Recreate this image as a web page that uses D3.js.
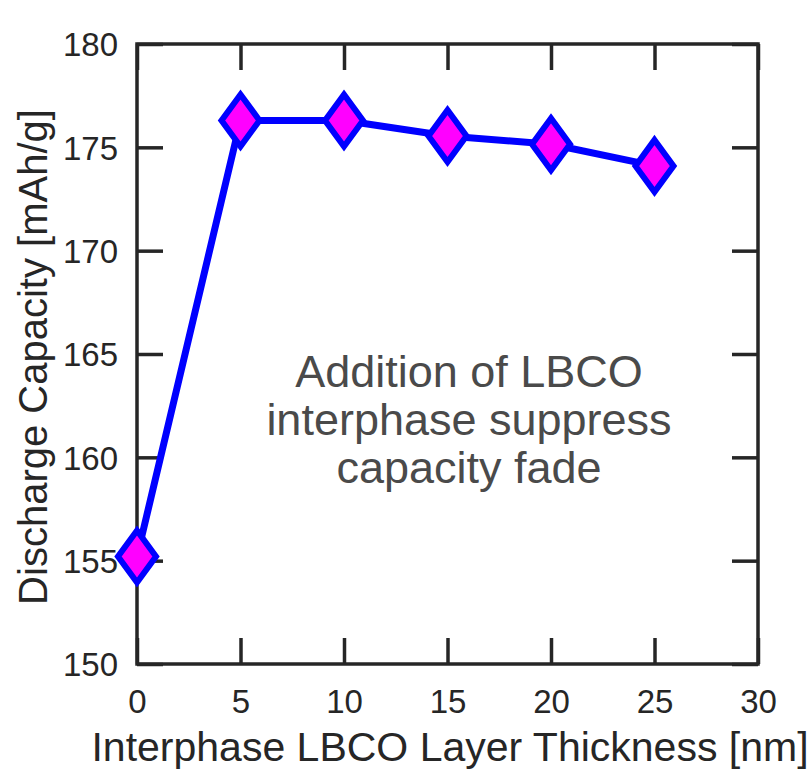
<!DOCTYPE html>
<html>
<head>
<meta charset="utf-8">
<script src="https://cdn.jsdelivr.net/npm/d3@7"></script>
<style>
  body { margin: 0; background: #fff; }
  svg text { font-family: "Liberation Sans", Arial, Helvetica, sans-serif; }
</style>
</head>
<body>
<div id="chart"></div>
<script>
// data
var thickness = [0, 5, 10, 15, 20, 25];
var capacity = [155.2, 176.3, 176.3, 175.55, 175.15, 174.1];
var xTicks = [0, 5, 10, 15, 20, 25, 30];
var yTicks = [150, 155, 160, 165, 170, 175, 180];
var note = ["Addition of LBCO", "interphase suppress", "capacity fade"];

var svgWidth = 809;
var svgHeight = 771;
var margin = { top: 44, right: 51, bottom: 107, left: 137 };
var width = svgWidth - margin.left - margin.right;
var height = svgHeight - margin.top - margin.bottom;

var svg = d3.select("#chart")
    .append("svg")
    .attr("width", svgWidth)
    .attr("height", svgHeight);

var chartGroup = svg.append("g")
    .attr("transform", `translate(${margin.left}, ${margin.top})`);

var xScale = d3.scaleLinear().domain([0, 30]).range([0, width]);
var yScale = d3.scaleLinear().domain([150, 180]).range([height, 0]);

var axisColor = "#262626";
var tickLen = 26;

// axes with inward ticks
var xAxis = chartGroup.append("g")
    .attr("transform", `translate(0, ${height})`)
    .call(d3.axisBottom(xScale).tickValues(xTicks).tickSize(-tickLen).tickPadding(49));
var yAxis = chartGroup.append("g")
    .call(d3.axisLeft(yScale).tickValues(yTicks).tickSize(-tickLen).tickPadding(19));
var topAxis = chartGroup.append("g")
    .call(d3.axisTop(xScale).tickValues(xTicks).tickSize(-tickLen).tickFormat(""));
var rightAxis = chartGroup.append("g")
    .attr("transform", `translate(${width}, 0)`)
    .call(d3.axisRight(yScale).tickValues(yTicks).tickSize(-tickLen).tickFormat(""));

[xAxis, yAxis, topAxis, rightAxis].forEach(a => {
    a.select(".domain").remove();
    a.selectAll(".tick line").attr("stroke", axisColor).attr("stroke-width", 3.5);
    a.selectAll(".tick text")
        .attr("fill", axisColor)
        .style("font-size", "33px");
});
xAxis.selectAll(".tick text").attr("dy", "0");
yAxis.selectAll(".tick text").attr("dy", "0.36em");

chartGroup.append("rect")
    .attr("x", 0).attr("y", 0)
    .attr("width", width).attr("height", height)
    .attr("fill", "none")
    .attr("stroke", axisColor)
    .attr("stroke-width", 3.5);

// data line
var line = d3.line()
    .x((d, i) => xScale(thickness[i]))
    .y(d => yScale(d));
chartGroup.append("path")
    .datum(capacity)
    .attr("d", line)
    .attr("fill", "none")
    .attr("stroke", "#0000ff")
    .attr("stroke-width", 7)
    .attr("stroke-linejoin", "round");

// diamond markers
chartGroup.selectAll(".marker")
    .data(capacity)
    .enter()
    .append("path")
    .classed("marker", true)
    .attr("d", "M0,-26L19,0L0,26L-19,0Z")
    .attr("transform", (d, i) => `translate(${xScale(thickness[i])}, ${yScale(d)})`)
    .attr("fill", "#ff00ff")
    .attr("stroke", "#0000ff")
    .attr("stroke-width", 6)
    .attr("stroke-linejoin", "miter");

// annotation
chartGroup.append("text")
    .attr("x", 469 - margin.left)
    .attr("y", 387 - margin.top)
    .attr("text-anchor", "middle")
    .attr("fill", "#4a4a4a")
    .style("font-size", "45px")
    .selectAll("tspan")
    .data(note)
    .enter()
    .append("tspan")
    .attr("x", 469 - margin.left)
    .attr("dy", (d, i) => i === 0 ? 0 : 48)
    .text(d => d);

// axis labels
svg.append("text")
    .attr("x", 450)
    .attr("y", 761)
    .attr("text-anchor", "middle")
    .attr("fill", axisColor)
    .style("font-size", "41px")
    .text("Interphase LBCO Layer Thickness [nm]");

svg.append("text")
    .attr("transform", "translate(47, 357) rotate(-90)")
    .attr("text-anchor", "middle")
    .attr("fill", axisColor)
    .style("font-size", "40px")
    .text("Discharge Capacity [mAh/g]");
</script>
</body>
</html>
